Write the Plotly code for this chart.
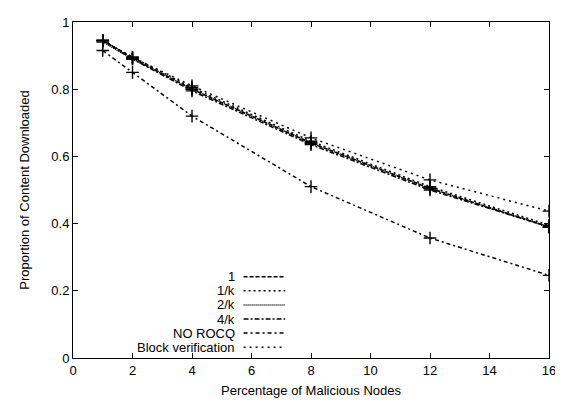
import plotly.graph_objects as go

x_vals = [1, 2, 4, 8, 12, 16]
s_1 = [0.945, 0.893, 0.80, 0.64, 0.505, 0.39]
s_1k = [0.945, 0.895, 0.805, 0.645, 0.51, 0.395]
s_2k = [0.94, 0.89, 0.80, 0.64, 0.505, 0.39]
s_4k = [0.945, 0.89, 0.795, 0.635, 0.50, 0.39]
s_norocq = [0.915, 0.85, 0.72, 0.51, 0.357, 0.246]
s_block = [0.945, 0.895, 0.81, 0.655, 0.53, 0.437]

names = ["1", "1/k", "2/k", "4/k", "NO ROCQ", "Block verification"]
series = [s_1, s_1k, s_2k, s_4k, s_norocq, s_block]
dashes = ["4px,2px", "2px,3px", "1px,1px", "5px,2px,2px,2px", "4px,3px,2px,3px", "2px,4px"]

FONT = "Liberation Sans, Arial, sans-serif"

fig = go.Figure()
for n, s, d in zip(names, series, dashes):
    fig.add_trace(go.Scatter(
        x=x_vals, y=s, name=n, mode="lines+markers",
        line=dict(color="black", width=1.5, dash=d),
        marker=dict(symbol="cross-thin", size=9, line=dict(color="black", width=1.4)),
        showlegend=False,
    ))

# page body has an 8px offset; compensate
OFF = 8
PX0, PX1, PY0, PY1 = 73, 553, 15, 358  # plot area in page pixels
L, R, T, B = PX0 - OFF, 563 - PX1, PY0 - OFF, 403 - PY1
FW, FH = 563 - OFF, 403 - OFF
W, H = PX1 - PX0, PY1 - PY0
row_px = [275, 289.4, 303.8, 318.2, 332.6, 347]
annotations = []
shapes = []
for n, d, yp in zip(names, dashes, row_px):
    py = (PY1 - yp) / H
    annotations.append(dict(
        x=(238 - PX0) / W, y=py, xref="paper", yref="paper", text=n,
        showarrow=False, xanchor="right", yanchor="middle",
        font=dict(family=FONT, size=13, color="black"),
    ))
    shapes.append(dict(
        type="line", xref="paper", yref="paper",
        x0=(245 - PX0) / W, x1=(287 - PX0) / W, y0=py, y1=py,
        line=dict(color="black", width=1.5, dash=d),
    ))

fig.update_layout(
    width=FW, height=FH,
    margin=dict(l=L, r=R, t=T, b=B),
    paper_bgcolor="white", plot_bgcolor="white",
    font=dict(family=FONT, size=13, color="black"),
    annotations=annotations, shapes=shapes,
    xaxis=dict(
        range=[0, 16], dtick=2, tick0=0, showgrid=False, zeroline=False,
        showline=True, linecolor="black", linewidth=1, mirror="allticks",
        ticks="inside", ticklen=5, tickcolor="black",
        title=dict(text="Percentage of Malicious Nodes", font=dict(size=13), standoff=9),
    ),
    yaxis=dict(
        range=[0, 1], dtick=0.2, tick0=0, showgrid=False, zeroline=False,
        showline=True, linecolor="black", linewidth=1, mirror="allticks",
        ticks="inside", ticklen=5, tickcolor="black",
        tickvals=[0, 0.2, 0.4, 0.6, 0.8, 1], ticktext=["0", "0.2", "0.4", "0.6", "0.8", "1"],
        title=dict(text="Proportion of Content Downloaded", font=dict(size=13), standoff=18),
    ),
)

fig.write_html("out.html")
